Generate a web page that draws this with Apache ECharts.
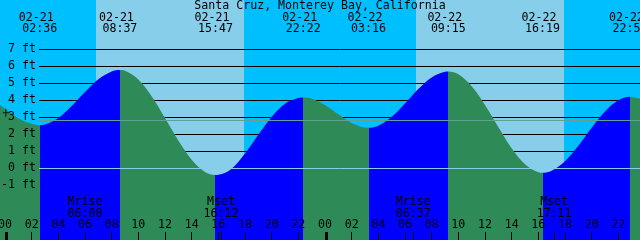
<!DOCTYPE html>
<html><head><meta charset="utf-8">
<script src="https://cdn.jsdelivr.net/npm/echarts@6/dist/echarts.min.js"></script>
<style>html,body{margin:0;padding:0;background:#00bfff}#c{width:640px;height:240px}</style>
</head><body><div id="c"></div>
<script>
// ---- data (hours counted from 02-21 00:00 local) ----
const chartTitle = 'Santa Cruz, Monterey Bay, California';
const tideHours = [-1, 0, 1, 2, 2.6, 3, 4, 5, 6, 7, 8, 8.617, 9, 10, 11, 12, 13, 14, 15, 15.783,
  16, 17, 18, 19, 20, 21, 22, 22.367, 23, 24, 25, 26, 27, 27.267, 28, 29, 30, 31, 32, 33, 33.25,
  34, 35, 36, 37, 38, 39, 40, 40.317, 41, 42, 43, 44, 45, 46, 46.867, 47, 48];
const tideFeet = [4.1, 3.48, 2.93, 2.6, 2.53, 2.56, 2.94, 3.64, 4.47, 5.22, 5.68, 5.76, 5.72, 5.21, 4.22, 2.94, 1.62, 0.49, -0.23, -0.41,
  -0.40, -0.04, 0.85, 1.95, 3.0, 3.78, 4.12, 4.15, 4.08, 3.71, 3.16, 2.65, 2.38, 2.37, 2.49, 3.01, 3.80, 4.65, 5.33, 5.655, 5.67,
  5.51, 4.81, 3.71, 2.41, 1.16, 0.22, -0.25, -0.28, -0.16, 0.40, 1.31, 2.37, 3.33, 3.99, 4.19, 4.18, 4.02];
const extremeHours = [2.6, 8.617, 15.783, 22.367, 27.267, 33.25, 40.317, 46.867];
const extremeKinds = ['low', 'high', 'low', 'high', 'low', 'high', 'low', 'high'];
const extremeDates = ['02-21', '02-21', '02-21', '02-21', '02-22', '02-22', '02-22', '02-22'];
const extremeTimes = ['02:36', '08:37', '15:47', '22:22', '03:16', '09:15', '16:19', '22:52'];
const moonHours = [6, 16.2, 30.617, 41.183];
const moonEvents = ['Mrise', 'Mset', 'Mrise', 'Mset'];
const moonTimes = ['06:00', '16:12', '06:37', '17:11'];
const sunriseHours = [6.825, 30.825];
const sunsetHours = [17.925, 41.925];
const hourTicks = [0, 2, 4, 6, 8, 10, 12, 14, 16, 18, 20, 22, 24, 26, 28, 30, 32, 34, 36, 38, 40, 42, 44, 46];
const midnightHours = [0, 24];
const footTicks = [-1, 0, 1, 2, 3, 4, 5, 6, 7];
const footLines = [1, 2, 3, 4, 5, 6, 7];
const datumFeet = 0;
const meanLevelFeet = 2.8;
const nowMark = [0.1, 3.25];

// ---- styles ----
const NIGHT = '#00bfff', DAY = '#87ceeb', RISE = '#0000ff', FALL = '#2e8b57';
const FONTFAM = '"DejaVu Sans Mono", monospace';
const FS = 11.6;
const FONT = FS + 'px ' + FONTFAM;

const chart = echarts.init(document.getElementById('c'), null, {renderer: 'canvas', width: 640, height: 240});

const tideData = tideHours.map((h, i) => [h, tideFeet[i]]);
const pieces = [{lt: extremeHours[0], color: extremeKinds[0] === 'low' ? FALL : RISE}];
extremeHours.forEach((h, i) => {
  const p = {gte: h, color: extremeKinds[i] === 'low' ? RISE : FALL};
  if (i + 1 < extremeHours.length) p.lt = extremeHours[i + 1];
  pieces.push(p);
});

const px = (api, h) => api.coord([h, 0])[0];
const crisp = v => Math.round(v) + 0.5;
const LINE_START = 39;

function textEl(x, y, text) {
  return {type: 'text', x: x, y: y, style: {text: text, align: 'center', verticalAlign: 'middle', font: FONT, fill: '#000'}};
}

const option = {
  backgroundColor: NIGHT,
  animation: false,
  title: {text: chartTitle, left: 'center', top: 0, padding: 0,
    textStyle: {fontFamily: FONTFAM, fontSize: FS, fontWeight: 'normal', color: '#000', lineHeight: 12}},
  grid: {left: 0, right: 0, top: 0, bottom: 0, containLabel: false, outerBoundsMode: 'none'},
  xAxis: {type: 'value', min: -0.375, max: 47.625, z: 10,
    axisLine: {show: false, onZero: false}, splitLine: {show: false},
    axisTick: {customValues: hourTicks, inside: true, length: 8, lineStyle: {color: '#000', width: 1}},
    axisLabel: {customValues: hourTicks, inside: true, margin: 9, color: '#000', fontFamily: FONTFAM, fontSize: FS,
      hideOverlap: false,
      formatter: v => String(((v % 24) + 24) % 24).padStart(2, '0')}},
  yAxis: {type: 'value', min: -72 / 17, max: 168 / 17, z: 10,
    axisLine: {show: false, onZero: false}, axisTick: {show: false}, splitLine: {show: false},
    axisLabel: {customValues: footTicks, inside: true, align: 'right', margin: 36, color: '#000',
      fontFamily: FONTFAM, fontSize: FS, formatter: v => v + ' ft'}},
  visualMap: {type: 'piecewise', show: false, dimension: 0, seriesIndex: 2, pieces: pieces},
  series: [
    { // daylight bands
      type: 'custom', z: 0, silent: true,
      data: sunriseHours.map((h, i) => [h, sunsetHours[i]]),
      renderItem: (params, api) => {
        const x0 = Math.round(px(api, api.value(0))), x1 = Math.round(px(api, api.value(1)));
        const cs = params.coordSys;
        return {type: 'rect', shape: {x: x0, y: cs.y, width: x1 - x0, height: cs.height}, style: {fill: DAY}};
      }
    },
    { // foot grid lines (behind water)
      type: 'custom', z: 1, silent: true,
      data: footLines.map(f => [0, f]),
      renderItem: (params, api) => {
        const y = crisp(api.coord([0, api.value(1)])[1]);
        const cs = params.coordSys;
        return {type: 'line', shape: {x1: LINE_START, y1: y, x2: cs.x + cs.width, y2: y}, style: {stroke: '#000', lineWidth: 1}};
      }
    },
    { // tide
      type: 'line', z: 2, data: tideData, symbol: 'none', smooth: 0.35, silent: true,
      lineStyle: {opacity: 0, width: 0},
      areaStyle: {origin: 'start', opacity: 1}
    },
    { // datum and mean level lines
      type: 'custom', z: 3, silent: true,
      data: [[0, datumFeet], [0, meanLevelFeet]],
      renderItem: (params, api) => {
        const y = crisp(api.coord([0, api.value(1)])[1]);
        const cs = params.coordSys;
        return {type: 'line', shape: {x1: LINE_START, y1: y, x2: cs.x + cs.width, y2: y},
          style: {stroke: params.dataIndex === 0 ? '#87ceeb' : '#62a096', lineWidth: 1}};
      }
    },
    { // extreme labels at top
      type: 'custom', z: 5, silent: true,
      data: extremeHours.map((h, i) => [h, i]),
      renderItem: (params, api) => {
        const x = px(api, api.value(0)), i = params.dataIndex;
        return {type: 'group', children: [textEl(x - 3.5, 17.5, extremeDates[i]), textEl(x, 29, extremeTimes[i])]};
      }
    },
    { // moon labels and ticks
      type: 'custom', z: 5, silent: true,
      data: moonHours.map((h, i) => [h, i]),
      renderItem: (params, api) => {
        const x = px(api, api.value(0)), i = params.dataIndex;
        const xt = crisp(x);
        return {type: 'group', children: [textEl(x, 201.5, moonEvents[i]), textEl(x, 213.5, moonTimes[i]),
          {type: 'line', shape: {x1: xt, y1: 232, x2: xt, y2: 240}, style: {stroke: '#000', lineWidth: 1}}]};
      }
    },
    { // midnight ticks
      type: 'custom', z: 5, silent: true,
      data: midnightHours.map(h => [h, 0]),
      renderItem: (params, api) => {
        const x = Math.round(px(api, api.value(0)));
        return {type: 'rect', shape: {x: x, y: 232, width: 3, height: 8}, style: {fill: '#000'}};
      }
    },
    { // current-time marker
      type: 'scatter', z: 6, silent: true, data: [nowMark],
      symbol: 'path://M2.5,0H3.5V3.5H7V4.5H3.5V8H2.5V4.5H0V3.5H2.5Z', symbolSize: [7, 8],
      itemStyle: {color: '#000'}
    }
  ]
};
chart.setOption(option);
</script>
</body></html>
